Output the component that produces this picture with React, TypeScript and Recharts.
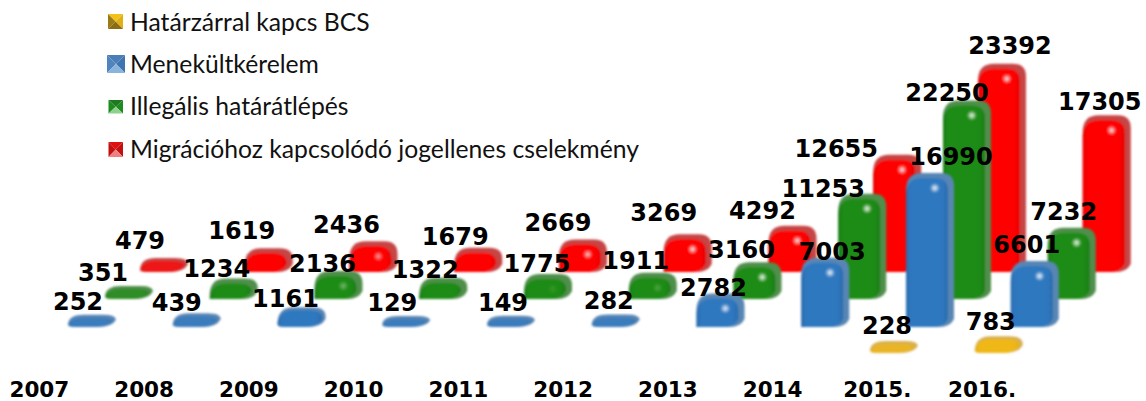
import React from 'react';
import { BarChart, Bar, XAxis, YAxis, LabelList } from 'recharts';

const years = ['2007', '2008', '2009', '2010', '2011', '2012', '2013', '2014', '2015.', '2016.'];

const hatarzar = [null, null, null, null, null, null, null, null, 228, 783];
const menekult = [252, 439, 1161, 129, 149, 282, 2782, 7003, 16990, 6601];
const illegalis = [351, 1234, 2136, 1322, 1775, 1911, 3160, 11253, 22250, 7232];
const jogellenes = [479, 1619, 2436, 1679, 2669, 3269, 4292, 12655, 23392, 17305];

const data = years.map((year, i) => ({
  year,
  hatarzar: hatarzar[i],
  menekult: menekult[i],
  illegalis: illegalis[i],
  jogellenes: jogellenes[i],
}));

// hand placed labels in the original, nudges from the top of each bar
// (LabelList skips the null rows, so hatarzar only has two)
const nudgeHatarzar = [[-7, -15], [-8, -14]];
const nudgeMenekult = [[-14, -13], [-20, -10], [-16, -8], [-14, -13], [-8, -13], [-7, -14], [-7, -5], [7, -6], [21, -16], [-8, -16]];
const nudgeIllegalis = [[-26, -13], [-17, -10], [-16, -7], [-18, -8], [-11, -10], [-17, -12], [-16, -12], [-39, -5], [-20, -7], [-8, -16]];
const nudgeJogellenes = [[-24, -17], [-27, -17], [-27, -16], [-23, -11], [-25, -16], [-24, -21], [-30, -15], [-61, -6], [8, -18], [-7, -13]];

// fake 3D: every series sits further right and higher up, back row first
const series = [
  { key: 'jogellenes', name: 'Migrációhoz kapcsolódó jogellenes cselekmény', shift: 108, lift: 81, nudge: nudgeJogellenes, body: '#ff0000', dark: '#e80000', edge: '#c64444' },
  { key: 'illegalis', name: 'Illegális határátlépés', shift: 73, lift: 54, nudge: nudgeIllegalis, body: '#1f8c14', dark: '#1a7d12', edge: '#4f8f4c' },
  { key: 'menekult', name: 'Menekültkérelem', shift: 36, lift: 26, nudge: nudgeMenekult, body: '#2f78c0', dark: '#2a6cae', edge: '#5886b4' },
  { key: 'hatarzar', name: 'Határzárral kapcs BCS', shift: 0, lift: 0, nudge: nudgeHatarzar, body: '#f0b814', dark: '#e6ae12', edge: '#d8b050' },
];

// legend swatches: top, right, left, bottom triangle
const legendRows = [
  { key: 'hatarzar', mx: 108, my: 14, w: 15, h: 15, tones: ['#f2c21a', '#e0b014', '#9a7a14', '#8a6c12'] },
  { key: 'menekult', mx: 107, my: 55, w: 18, h: 18, tones: ['#4a7eb8', '#3f74ae', '#4f84bc', '#8ab4dc'] },
  { key: 'illegalis', mx: 108.5, my: 100, w: 14.5, h: 13.5, tones: ['#1f7a1f', '#1f8a1f', '#1f8a1f', '#8fd08f'] },
  { key: 'jogellenes', mx: 108.5, my: 142, w: 14.5, h: 15, tones: ['#e01010', '#c01010', '#c01010', '#f08080'] },
];
const legendTextY = [31, 73, 115, 158];

const WIDTH = 1146;
const HEIGHT = 401;
const BOTTOM = 48;
const UNITS_PER_PX = 118;
const CAP = 10;

const Bevel = (props: any) => {
  const { x, y, width, height, tone } = props;
  if (props.value == null) return null;
  const top = y - CAP;
  const bottom = y + height;
  const h = bottom - top;
  const low = h < 20;
  const r = Math.min(15, h - 3);
  const rr = Math.min(13, h * 0.45);
  const br = Math.min(8, h * 0.6);
  const chamfer = low ? 18 : 15;
  const foot = low ? 7 : 0;
  const outline = (right: number, t: number) =>
    `M${x + foot},${bottom} Q${x},${bottom} ${x},${bottom - Math.min(foot, 3)} L${x},${t + r} Q${x + 1},${t} ${x + 16},${t} ` +
    `L${right - 13},${t} Q${right},${t} ${right},${t + rr} L${right},${bottom - br} Q${right - 4},${bottom} ${right - chamfer},${bottom} Z`;
  const spot = Math.max(0, Math.min(1, (h - 24) / 10));
  return (
    <g filter="url(#soft)">
      <path d={outline(x + width, top)} fill={tone.edge} />
      <path
        d={outline(x + width - (low ? 3 : 6), top + (low ? 3 : 5))}
        fill={`url(#face-${tone.key})`}
        opacity={h < 16 ? 0.7 : 1}
      />
      {spot > 0 && <ellipse cx={x + width * 0.6} cy={top + 15} rx={5} ry={5} fill="url(#spot)" opacity={spot} />}
    </g>
  );
};

const BarLabel = (props: any) => {
  const { x, y, width, value, index, nudge } = props;
  if (value == null) return null;
  const [dx, dy] = nudge[index];
  return (
    <text x={x + width / 2 + dx} y={y - CAP + dy + 8} textAnchor="middle" fontFamily="DejaVu Sans" fontWeight="bold" fontSize={24} fill="#000">
      {value}
    </text>
  );
};

const YearTick = (props: any) => {
  const { x, payload } = props;
  return (
    <text x={x} y={397} textAnchor="middle" fontFamily="DejaVu Sans" fontWeight="bold" fontSize={21.5} fill="#000">
      {payload.value}
    </text>
  );
};

const LegendRows = () => (
  <g>
    {legendRows.map((row, i) => {
      const s = series.find((item) => item.key === row.key)!;
      const { mx, my, w, h, tones } = row;
      const c = `${mx + w / 2},${my + h / 2}`;
      return (
        <g key={row.key}>
          <polygon points={`${mx},${my} ${mx + w},${my} ${c}`} fill={tones[0]} />
          <polygon points={`${mx + w},${my} ${mx + w},${my + h} ${c}`} fill={tones[1]} />
          <polygon points={`${mx},${my} ${mx},${my + h} ${c}`} fill={tones[2]} />
          <polygon points={`${mx},${my + h} ${mx + w},${my + h} ${c}`} fill={tones[3]} />
          <text x={130} y={legendTextY[i]} fontFamily="Lato" fontSize={24.7} fill="#111">
            {s.name}
          </text>
        </g>
      );
    })}
  </g>
);

const App = () => (
  <div style={{ position: 'absolute', left: 0, top: 0, background: '#fff' }}>
    <BarChart width={WIDTH} height={HEIGHT} data={data} margin={{ top: 0, right: 94.5, bottom: 0, left: 4 }} barCategoryGap={0}>
      <defs>
        {series.map((s) => (
          <linearGradient key={s.key} id={`face-${s.key}`} x1="0" y1="0" x2="1" y2="0">
            <stop offset="0" stopColor={s.dark} />
            <stop offset="0.12" stopColor={s.body} />
            <stop offset="0.85" stopColor={s.body} />
            <stop offset="1" stopColor={s.dark} />
          </linearGradient>
        ))}
        <radialGradient id="spot">
          <stop offset="0" stopColor="#fff" stopOpacity={0.95} />
          <stop offset="1" stopColor="#fff" stopOpacity={0} />
        </radialGradient>
        <filter id="soft" x="-10%" y="-10%" width="120%" height="120%">
          <feGaussianBlur stdDeviation="0.8" />
        </filter>
      </defs>
      <XAxis
        xAxisId="years"
        dataKey="year"
        height={BOTTOM}
        axisLine={false}
        tickLine={false}
        interval={0}
        padding={{ left: -17, right: 17 }}
        tick={<YearTick />}
      />
      {series.map((s) => (
        <XAxis key={s.key} xAxisId={s.key} dataKey="year" hide padding={{ left: s.shift, right: -s.shift }} />
      ))}
      {series.map((s) => (
        <YAxis
          key={s.key}
          yAxisId={s.key}
          hide
          type="number"
          domain={[0, (HEIGHT - BOTTOM - s.lift) * UNITS_PER_PX]}
          padding={{ bottom: s.lift }}
        />
      ))}
      {series.map((s) => (
        <Bar
          key={s.key}
          dataKey={s.key}
          name={s.name}
          xAxisId={s.key}
          yAxisId={s.key}
          barSize={48}
          isAnimationActive={false}
          shape={(p: any) => <Bevel {...p} tone={s} />}
        >
          <LabelList dataKey={s.key} content={(p: any) => <BarLabel {...p} nudge={s.nudge} />} />
        </Bar>
      ))}
      <LegendRows />
    </BarChart>
  </div>
);

export default App;
